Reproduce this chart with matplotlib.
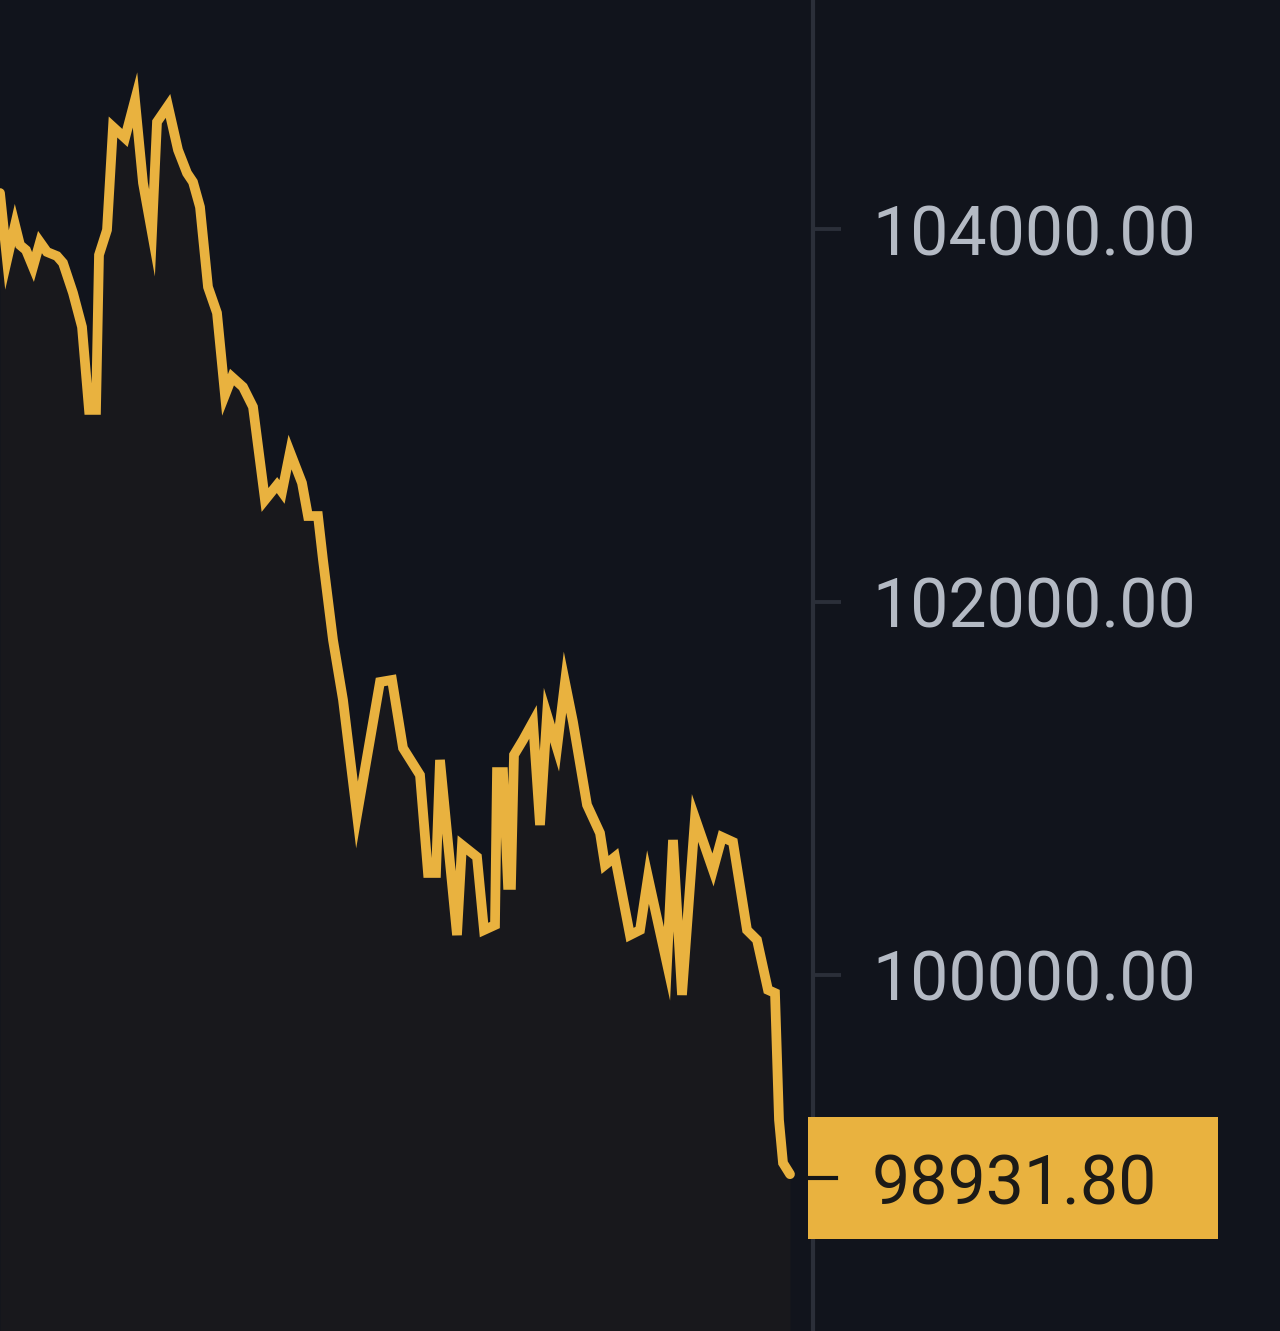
import numpy as np
import matplotlib
matplotlib.use('Agg')
import matplotlib.pyplot as plt
from matplotlib import transforms
from matplotlib.patches import Rectangle

plt.rcParams['font.family'] = ['Roboto', 'DejaVu Sans']

# time step (chart units) and price
t = [0, 7, 15, 20, 26, 33, 40, 47, 57, 63, 73, 82, 89, 96, 99, 107, 113, 125,
     135, 143, 152, 157, 168, 178, 187, 193, 200, 208, 217, 225, 232, 243, 253,
     265, 277, 282, 290, 302, 308, 318, 323, 333, 343, 357, 380, 392, 403, 420,
     428, 436, 440, 457, 462, 477, 484, 495, 497, 503, 508, 511, 514, 523, 533,
     540, 547, 557, 565, 573, 587, 600, 605, 615, 630, 640, 648, 667, 673, 682,
     695, 713, 722, 733, 747, 757, 768, 775, 779, 783, 790]
price = [104193, 103834, 104022, 103914, 103887, 103796, 103930, 103877, 103855,
         103818, 103657, 103475, 103030, 103030, 103861, 103995, 104547, 104488,
         104692, 104247, 103979, 104574, 104660, 104424, 104300, 104252, 104118,
         103689, 103550, 103110, 103206, 103153, 103046, 102547, 102627, 102590,
         102804, 102638, 102461, 102461, 102225, 101796, 101475, 100858, 101571,
         101582, 101217, 101072, 100547, 100547, 101153, 100214, 100697, 100633,
         100241, 100268, 101088, 101088, 100483, 100483, 101180, 101260, 101357,
         100804, 101394, 101217, 101570, 101357, 100912, 100761, 100590, 100633,
         100214, 100241, 100525, 100060, 100724, 99893, 100842, 100563, 100740,
         100713, 100241, 100188, 99920, 99903, 99223, 98992, 98931.80]

ticks = [100000, 102000, 104000]
last_price = price[-1]

bg = '#11141c'
fill_col = '#18181c'
line_col = '#e9b23f'
axis_col = '#2b2f39'

fig = plt.figure(figsize=(12.8, 13.31), dpi=100, facecolor=bg)
ax = fig.add_axes([0, 0, 813 / 1280, 1])
ax.set_facecolor(bg)

ymin, ymax = 98091, 105228
ax.fill_between(t, price, ymin, color=fill_col, linewidth=0)
ax.plot(t, price, color=line_col, linewidth=7, solid_joinstyle='miter',
        solid_capstyle='round')

ax.set_xlim(0, 813)
ax.set_ylim(ymin, ymax)

for s in ['top', 'left', 'bottom']:
    ax.spines[s].set_visible(False)
ax.spines['right'].set_color(axis_col)
ax.spines['right'].set_linewidth(3)

ax.set_xticks([])
ax.yaxis.tick_right()
ax.set_yticks(ticks)
ax.set_yticklabels([f'{v:.2f}' for v in ticks])
ax.tick_params(axis='y', length=20, width=2.8, color=axis_col, pad=23,
               labelsize=49, labelcolor='#b4bac4')

# last price tag
trans = transforms.blended_transform_factory(ax.transAxes, ax.transData)
box_h = 654
box_mid = last_price - 21
ax.add_patch(Rectangle((808 / 813, box_mid - box_h / 2), 410 / 813, box_h,
                       transform=trans, facecolor=line_col, edgecolor='none',
                       clip_on=False, zorder=5))
ax.plot([808 / 813, 836 / 813], [box_mid, box_mid], transform=trans,
        color='#141518', linewidth=3, clip_on=False, zorder=6)
ax.text(872 / 813, box_mid, f'{last_price:.2f}', transform=trans,
        ha='left', va='center_baseline', fontsize=49,
        color='#1c1a17', zorder=7, clip_on=False)

fig.savefig('out.png', dpi=100, facecolor=bg)
